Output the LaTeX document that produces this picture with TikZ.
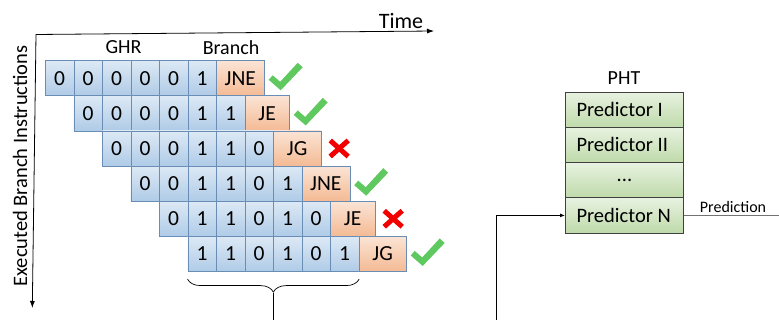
\documentclass[tikz,border=0pt]{standalone}
\usepackage{fontspec}
\setmainfont{Carlito}
\usetikzlibrary{decorations.pathreplacing,arrows.meta}
\definecolor{bittop}{HTML}{DDE9F5}
\definecolor{bitbot}{HTML}{AFCBE7}
\definecolor{bitline}{HTML}{6A8DB6}
\definecolor{brtop}{HTML}{FBE4D5}
\definecolor{brbot}{HTML}{F4BA94}
\definecolor{phttop}{HTML}{E7F2E0}
\definecolor{phtbot}{HTML}{BFDAAA}
\definecolor{okgreen}{HTML}{5FC85F}
\definecolor{badred}{HTML}{F20000}
\newcommand{\phtleft}[1]{\makebox[96pt][l]{#1}}
\begin{document}
\begin{tikzpicture}[x=1pt,y=-1pt,
  bit/.style={draw=bitline, line width=0.7pt, top color=bittop, bottom color=bitbot,
    minimum width=28.5pt, minimum height=35.13pt, inner sep=0pt, anchor=north west,
    font=\fontsize{21.5}{21.5}\selectfont},
  brcell/.style={bit, top color=brtop, bottom color=brbot},
  phtrow/.style={draw=black!75, line width=0.7pt, top color=phttop, bottom color=phtbot,
    minimum width=118.3pt, minimum height=35.25pt, inner sep=0pt, anchor=north west,
    font=\fontsize{20.5}{21}\selectfont},
  okmark/.style={fill=okgreen},
  badmark/.style={draw=badred, line width=5pt},
  axis/.style={line width=0.8pt, {Latex[length=7pt,width=5pt]}-{Latex[length=7pt,width=5pt]}},
  lbl/.style={inner sep=0pt, font=\fontsize{20}{20}\selectfont}
]
\useasboundingbox (0,0) rectangle (779,320);

% axes
\coordinate (O) at (36,34.5);
\coordinate (tend) at (434,31);
\coordinate (dend) at (32.3,308);
\draw[axis] (tend) -- (O) -- (dend);
\node[lbl, font=\fontsize{22}{22}\selectfont] (time) at (401,21) {Time};
\node[lbl, rotate=90, font=\fontsize{20.5}{20.5}\selectfont] (exec) at (20,166) {Executed Branch Instructions};

% column headings
\node[lbl] (ghr) at (123.5,47.5) {GHR};
\node[lbl] (branch) at (231,47.5) {Branch};

% history rows: bits, branch, outcome (1 = correct, 0 = wrong)
\foreach \r/\bits/\bn/\bw/\ok in {
    1/{0,0,0,0,0,1}/JNE/48/1,
    2/{0,0,0,0,1,1}/JE/44.5/1,
    3/{0,0,0,1,1,0}/JG/47.5/0,
    4/{0,0,1,1,0,1}/JNE/48/1,
    5/{0,1,1,0,1,0}/JE/44.5/0,
    6/{1,1,0,1,0,1}/JG/47.5/1} {
  \pgfmathsetmacro{\rx}{45+(\r-1)*28.5}
  \pgfmathsetmacro{\ry}{60.3+(\r-1)*35.13}
  \foreach \b [count=\c] in \bits {
    \node[bit] (b\r-\c) at ({\rx+(\c-1)*28.5},\ry) {\b};
  }
  \node[brcell, minimum width=\bw pt] (br\r) at ({\rx+6*28.5},\ry) {\bn};
  \ifnum\ok=1
    \fill[okmark] ([shift={(4,19.5)}]br\r.north east) -- ++(4,-4.5) -- ++(7.5,6.5)
      -- ++(17.5,-19) -- ++(5,4.5) -- ++(-22,23) -- cycle;
  \else
    \draw[badmark] ([shift={(9,-8)}]br\r.east) -- ++(18,16);
    \draw[badmark] ([shift={(9,8)}]br\r.east) -- ++(18,-16);
  \fi
}

% brace under the last history
\draw[decorate, decoration={brace, mirror, amplitude=13pt}, line width=0.7pt]
  ([shift={(0,7.3)}]b6-1.south west) -- ([shift={(0,7.3)}]b6-6.south east)
  coordinate[midway, shift={(0,13.5)}] (tip);
\coordinate (tipend) at (tip |- 0,320);
\draw[line width=0.8pt] (tip) -- (tipend);

% pattern history table
\node[lbl] (pht) at (624,78) {PHT};
\node[phtrow] (p1) at (565,91.7) {\phtleft{Predictor I}};
\node[phtrow] (p2) at (565,126.95) {\phtleft{Predictor II}};
\node[phtrow] (p3) at (565,162.2) {...};
\node[phtrow] (pN) at (565,197.45) {\phtleft{Predictor N}};

\coordinate (feed) at (496,320);
\draw[line width=0.8pt, -{Latex[length=5pt,width=4pt]}] (feed) |- (pN.west);
\coordinate (out) at (779,0 |- pN.east);
\draw[black!55, line width=0.8pt] (pN.east) -- (out |- pN.east);
\node[inner sep=0pt, anchor=base, font=\fontsize{16}{16}\selectfont] (pred) at (733,213) {Prediction};
\end{tikzpicture}
\end{document}
